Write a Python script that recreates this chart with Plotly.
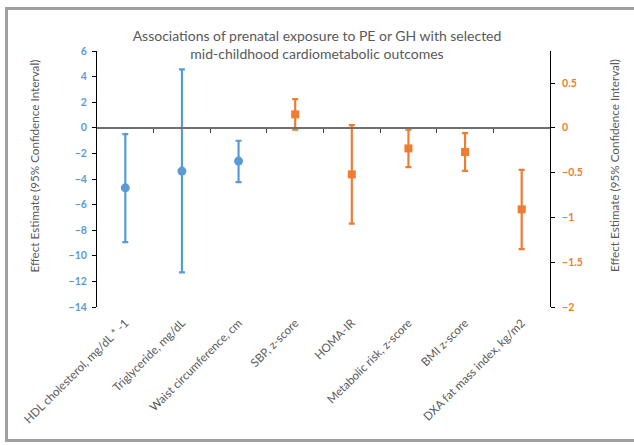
import plotly.graph_objects as go

categories = ["HDL cholesterol, mg/dL * -1", "Triglyceride, mg/dL", "Waist circumference, cm",
              "SBP, z-score", "HOMA-IR", "Metabolic risk, z-score", "BMI z-score",
              "DXA fat mass index, kg/m2"]

# Left-axis outcomes (blue circles)
left_idx = [0, 1, 2]
left_est = [-4.69, -3.38, -2.60]
left_lo = [-8.93, -11.30, -4.24]
left_hi = [-0.49, 4.56, -1.01]

# Right-axis outcomes (orange squares)
right_idx = [3, 4, 5, 6, 7]
right_est = [0.15, -0.52, -0.23, -0.27, -0.91]
right_lo = [-0.02, -1.07, -0.44, -0.48, -1.355]
right_hi = [0.32, 0.03, -0.02, -0.06, -0.47]

left_ticks = [6, 4, 2, 0, -2, -4, -6, -8, -10, -12, -14]
right_ticks = [0.5, 0, -0.5, -1, -1.5, -2]

axis_title = "Effect Estimate (95% Confidence Interval)"

BLUE = "#5B9BD5"
ORANGE = "#ED7D31"
GREY = "#595959"
FONT = "Lato"

fig = go.Figure()
fig.add_trace(go.Scatter(
    x=left_idx, y=left_est, mode="markers", xaxis="x", yaxis="y",
    marker=dict(symbol="circle", size=9, color=BLUE),
    error_y=dict(type="data", symmetric=False,
                 array=[h - e for h, e in zip(left_hi, left_est)],
                 arrayminus=[e - l for e, l in zip(left_est, left_lo)],
                 color=BLUE, thickness=2.2, width=3),
    showlegend=False))
fig.add_trace(go.Scatter(
    x=right_idx, y=right_est, mode="markers", xaxis="x", yaxis="y2",
    marker=dict(symbol="square", size=8, color=ORANGE),
    error_y=dict(type="data", symmetric=False,
                 array=[h - e for h, e in zip(right_hi, right_est)],
                 arrayminus=[e - l for e, l in zip(right_est, right_lo)],
                 color=ORANGE, thickness=2.2, width=3),
    showlegend=False))
# helper trace so the zero-line category axis is drawn
fig.add_trace(go.Scatter(x=[None], y=[None], xaxis="x2", yaxis="y",
                         showlegend=False, hoverinfo="skip"))

n = len(categories)
lw, pw, ph = 97, 453, 256
def px_x(p):
    return (p - lw) / pw
def px_y(p):
    return (307 - p) / ph

fig.update_layout(
    width=634, height=445,
    margin=dict(l=97, r=84, t=51, b=138),
    paper_bgcolor="white", plot_bgcolor="white",
    font=dict(family=FONT, color=GREY),
    title=dict(text="Associations of prenatal exposure to PE or GH with selected<br>mid-childhood cardiometabolic outcomes",
               x=0.5, xanchor="center", y=1 - 41 / 445, yanchor="middle",
               font=dict(family=FONT, size=14, color=GREY)),
    xaxis=dict(range=[-0.5, n - 0.5], tickmode="array", tickvals=list(range(n)),
               ticktext=categories, tickangle=-45, ticks="", showline=False,
               showgrid=False, zeroline=False, automargin=False,
               ticklabelstandoff=6,
               tickfont=dict(family=FONT, size=11.6, color=GREY)),
    xaxis2=dict(range=[-0.5, n - 0.5], overlaying="x", anchor="free", position=0.7,
                side="bottom", tickmode="array",
                tickvals=[i + 0.5 for i in range(n - 1)],
                ticks="outside", ticklen=4, tickcolor="#404040", tickwidth=1,
                showticklabels=False, showline=True, linecolor="#6f6f6f",
                linewidth=1.5, showgrid=False, zeroline=False, automargin=False),
    yaxis=dict(range=[-14, 6], tickmode="array", tickvals=left_ticks,
               ticks="outside", ticklen=4, tickcolor="black", showline=True,
               linecolor="black", linewidth=1, showgrid=False, zeroline=False,
               automargin=False, ticklabelstandoff=3,
               tickfont=dict(family=FONT, size=10.5, color=BLUE, weight="bold")),
    yaxis2=dict(range=[-2, 6 / 7], overlaying="y", side="right", tickmode="array",
                tickvals=right_ticks, ticks="outside", ticklen=4, tickcolor="black",
                showline=True, linecolor="black", linewidth=1, showgrid=False,
                zeroline=False, automargin=False, ticklabelstandoff=5,
                tickfont=dict(family=FONT, size=10.5, color=ORANGE, weight="bold")),
    annotations=[
        dict(text=axis_title, xref="paper", yref="paper", x=px_x(33), y=px_y(166.5),
             xanchor="center", yanchor="middle", textangle=-90, showarrow=False,
             font=dict(family=FONT, size=11.7, color=GREY)),
        dict(text=axis_title, xref="paper", yref="paper", x=px_x(614), y=px_y(166),
             xanchor="center", yanchor="middle", textangle=-90, showarrow=False,
             font=dict(family=FONT, size=11.7, color=GREY)),
    ],
    shapes=[
        dict(type="rect", xref="paper", yref="paper",
             x0=px_x(6.5), x1=px_x(640), y0=px_y(440.5), y1=px_y(8.5),
             line=dict(color="#a0a0a0", width=3), fillcolor="rgba(0,0,0,0)", layer="below"),
    ],
)

fig.write_html("out.html", config={"displayModeBar": False},
               post_script="document.body.style.margin='0';document.body.style.padding='0';")
